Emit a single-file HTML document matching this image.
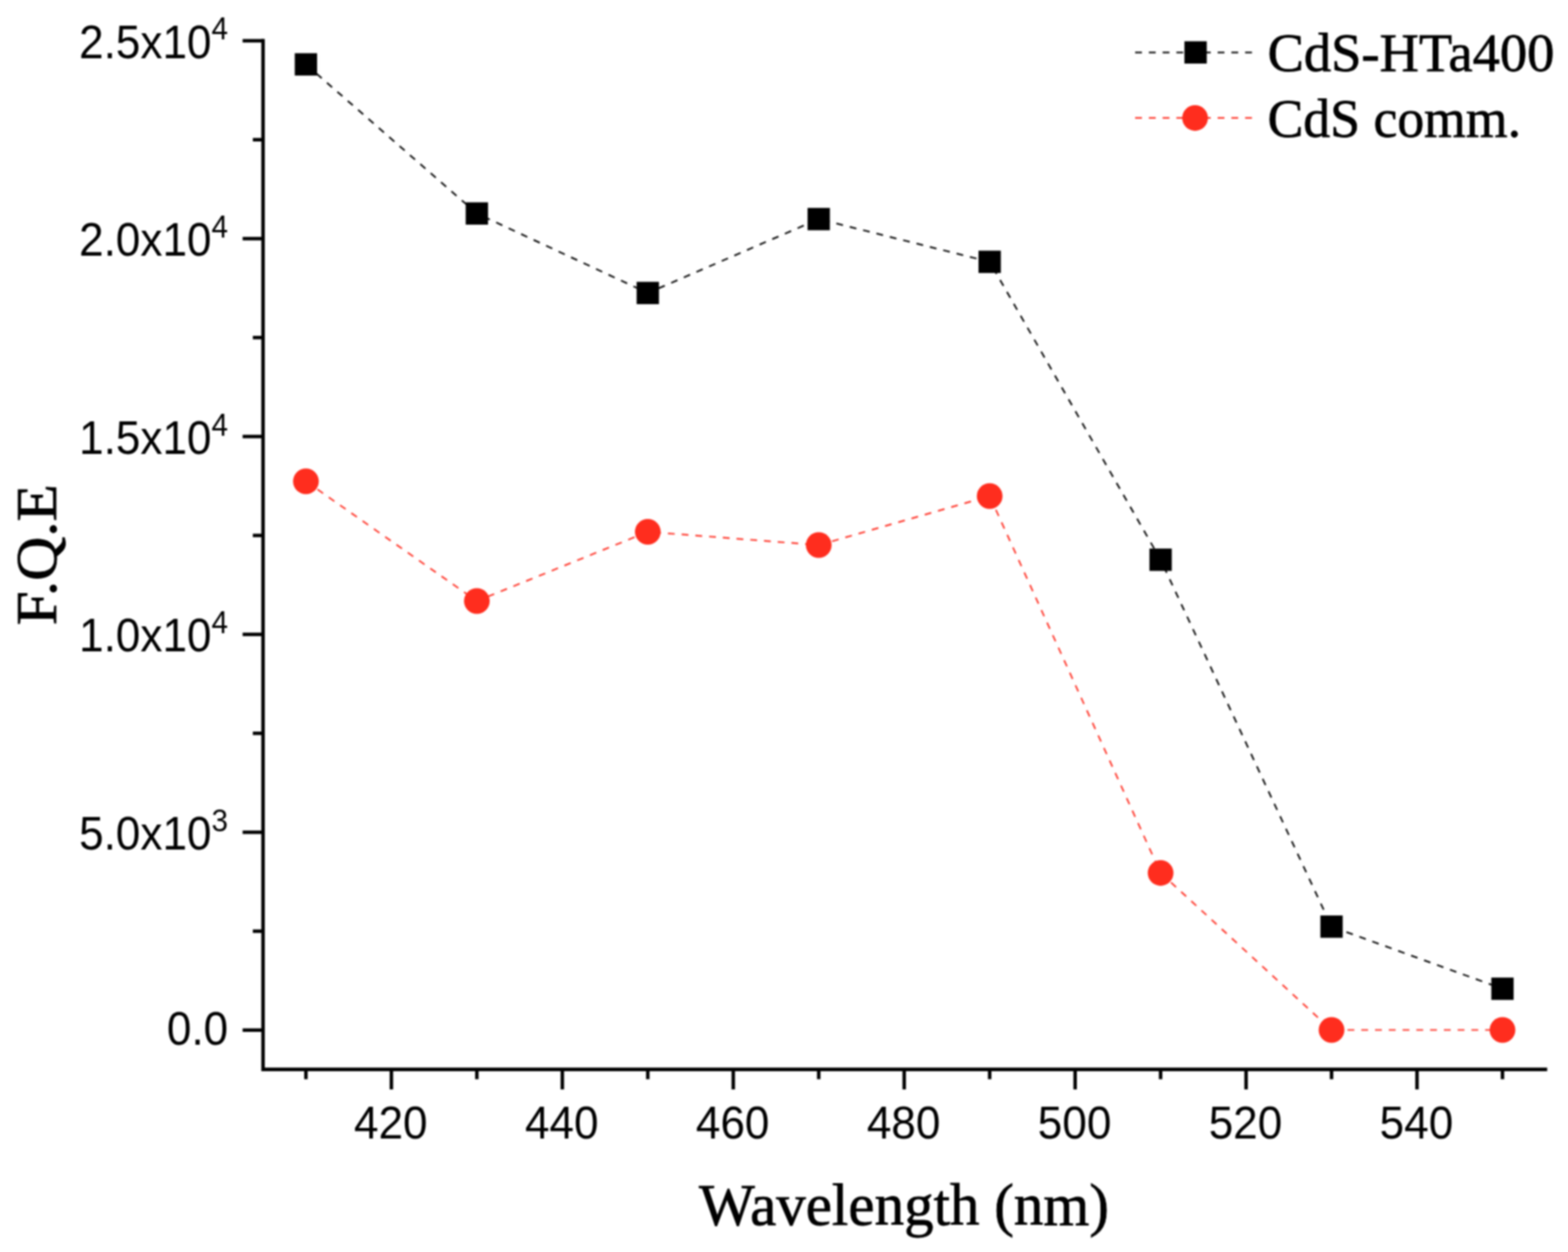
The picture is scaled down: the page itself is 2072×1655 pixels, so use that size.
<!DOCTYPE html>
<html><head><meta charset="utf-8"><title>F.Q.E vs Wavelength</title>
<style>
html,body{margin:0;padding:0;background:#fff;}
body{width:2072px;height:1655px;overflow:hidden;}
svg{display:block;}
.wrap{width:2072px;height:1655px;background:#fff;filter:blur(1px);}
.t{font-family:"Liberation Sans",Arial,Helvetica,sans-serif;fill:#000;}
.s{font-family:"Liberation Serif","Times New Roman",Times,serif;fill:#000;}
</style></head><body>
<div class="wrap"><svg width="2072" height="1655" viewBox="0 0 2072 1655">
<rect width="2072" height="1655" fill="#fff"/>
<polyline points="404.26,85.1 630.14,282.2 856.02,387.3 1081.9,289.6 1307.78,346.1 1533.66,739.9 1759.54,1224.9 1985.42,1307" fill="none" stroke="#111" stroke-width="2.3" stroke-dasharray="9 9.19" stroke-dashoffset="-0.5"/>
<polyline points="404.26,636.2 630.14,794.5 856.02,703 1081.9,720.5 1307.78,655.8 1533.66,1153.9 1759.54,1361.5 1985.42,1361.5" fill="none" stroke="#ff3a2e" stroke-width="2.2" stroke-dasharray="9 9.19" stroke-dashoffset="-0.5"/>
<rect x="389.51" y="70.35" width="29.5" height="29.5" fill="#000"/>
<rect x="615.39" y="267.45" width="29.5" height="29.5" fill="#000"/>
<rect x="841.27" y="372.55" width="29.5" height="29.5" fill="#000"/>
<rect x="1067.15" y="274.85" width="29.5" height="29.5" fill="#000"/>
<rect x="1293.03" y="331.35" width="29.5" height="29.5" fill="#000"/>
<rect x="1518.91" y="725.15" width="29.5" height="29.5" fill="#000"/>
<rect x="1744.79" y="1210.15" width="29.5" height="29.5" fill="#000"/>
<rect x="1970.67" y="1292.25" width="29.5" height="29.5" fill="#000"/>
<circle cx="404.26" cy="636.2" r="17" fill="#ff2d1e"/>
<circle cx="630.14" cy="794.5" r="17" fill="#ff2d1e"/>
<circle cx="856.02" cy="703" r="17" fill="#ff2d1e"/>
<circle cx="1081.9" cy="720.5" r="17" fill="#ff2d1e"/>
<circle cx="1307.78" cy="655.8" r="17" fill="#ff2d1e"/>
<circle cx="1533.66" cy="1153.9" r="17" fill="#ff2d1e"/>
<circle cx="1759.54" cy="1361.5" r="17" fill="#ff2d1e"/>
<circle cx="1985.42" cy="1361.5" r="17" fill="#ff2d1e"/>
<g stroke="#000" stroke-width="4.6" fill="none">
<path d="M347.6,51.5 V1415.9 M345.3,1413.6 H2044.5"/>
<path d="M320.6,1361.7 H347.6"/>
<path d="M320.6,1100.14 H347.6"/>
<path d="M320.6,838.58 H347.6"/>
<path d="M320.6,577.02 H347.6"/>
<path d="M320.6,315.46 H347.6"/>
<path d="M320.6,53.9 H347.6"/>
<path d="M334.1,1230.92 H347.6"/>
<path d="M334.1,969.36 H347.6"/>
<path d="M334.1,707.8 H347.6"/>
<path d="M334.1,446.24 H347.6"/>
<path d="M334.1,184.68 H347.6"/>
<path d="M517.2,1413.6 V1440.1"/>
<path d="M743.08,1413.6 V1440.1"/>
<path d="M968.96,1413.6 V1440.1"/>
<path d="M1194.84,1413.6 V1440.1"/>
<path d="M1420.72,1413.6 V1440.1"/>
<path d="M1646.6,1413.6 V1440.1"/>
<path d="M1872.48,1413.6 V1440.1"/>
<path d="M404.26,1413.6 V1426.6"/>
<path d="M630.14,1413.6 V1426.6"/>
<path d="M856.02,1413.6 V1426.6"/>
<path d="M1081.9,1413.6 V1426.6"/>
<path d="M1307.78,1413.6 V1426.6"/>
<path d="M1533.66,1413.6 V1426.6"/>
<path d="M1759.54,1413.6 V1426.6"/>
<path d="M1985.42,1413.6 V1426.6"/>
</g>
<text class="t" transform="translate(516.4,1504.8) scale(0.98,1.025)" font-size="59.5" text-anchor="middle">420</text>
<text class="t" transform="translate(742.28,1504.8) scale(0.98,1.025)" font-size="59.5" text-anchor="middle">440</text>
<text class="t" transform="translate(968.16,1504.8) scale(0.98,1.025)" font-size="59.5" text-anchor="middle">460</text>
<text class="t" transform="translate(1194.04,1504.8) scale(0.98,1.025)" font-size="59.5" text-anchor="middle">480</text>
<text class="t" transform="translate(1419.92,1504.8) scale(0.98,1.025)" font-size="59.5" text-anchor="middle">500</text>
<text class="t" transform="translate(1645.8,1504.8) scale(0.98,1.025)" font-size="59.5" text-anchor="middle">520</text>
<text class="t" transform="translate(1871.68,1504.8) scale(0.98,1.025)" font-size="59.5" text-anchor="middle">540</text>
<text class="t" transform="translate(301.5,1380.9) scale(0.98,1.05)" font-size="59.5" text-anchor="end">0.0</text>
<text class="t" transform="translate(279.5,1122.74) scale(0.98,1.05)" font-size="59.5" text-anchor="end">5.0x10</text>
<text class="t" transform="translate(279.5,1098.64) scale(0.98,1.05)" font-size="40">3</text>
<text class="t" transform="translate(279.5,861.18) scale(0.98,1.05)" font-size="59.5" text-anchor="end">1.0x10</text>
<text class="t" transform="translate(279.5,837.08) scale(0.98,1.05)" font-size="40">4</text>
<text class="t" transform="translate(279.5,599.62) scale(0.98,1.05)" font-size="59.5" text-anchor="end">1.5x10</text>
<text class="t" transform="translate(279.5,575.52) scale(0.98,1.05)" font-size="40">4</text>
<text class="t" transform="translate(279.5,338.06) scale(0.98,1.05)" font-size="59.5" text-anchor="end">2.0x10</text>
<text class="t" transform="translate(279.5,313.96) scale(0.98,1.05)" font-size="40">4</text>
<text class="t" transform="translate(279.5,76.5) scale(0.98,1.05)" font-size="59.5" text-anchor="end">2.5x10</text>
<text class="t" transform="translate(279.5,52.4) scale(0.98,1.05)" font-size="40">4</text>
<path d="M1500,69.3 H1655" stroke="#111" stroke-width="2.3" stroke-dasharray="9 9.17" fill="none"/>
<rect x="1565.15" y="54.55" width="29.5" height="29.5" fill="#000"/>
<path d="M1500,155.9 H1655" stroke="#ff3a2e" stroke-width="2.2" stroke-dasharray="9 9.17" fill="none"/>
<circle cx="1579.2" cy="155.9" r="17" fill="#ff2d1e"/>
<text class="s" transform="translate(1675,94.3)" font-size="72" stroke="#000" stroke-width="0.9">CdS-HTa400</text>
<text class="s" transform="translate(1675,181) scale(0.985,1.0)" font-size="72" stroke="#000" stroke-width="0.9">CdS comm.</text>
<text class="s" transform="translate(1194.6,1619.2)" font-size="78" text-anchor="middle" stroke="#000" stroke-width="0.9">Wavelength (nm)</text>
<text class="s" transform="translate(74.2,733.2) rotate(-90) scale(1.05,1.0)" font-size="77" text-anchor="middle" stroke="#000" stroke-width="0.9">F.Q.E</text>
</svg></div>
</body></html>
